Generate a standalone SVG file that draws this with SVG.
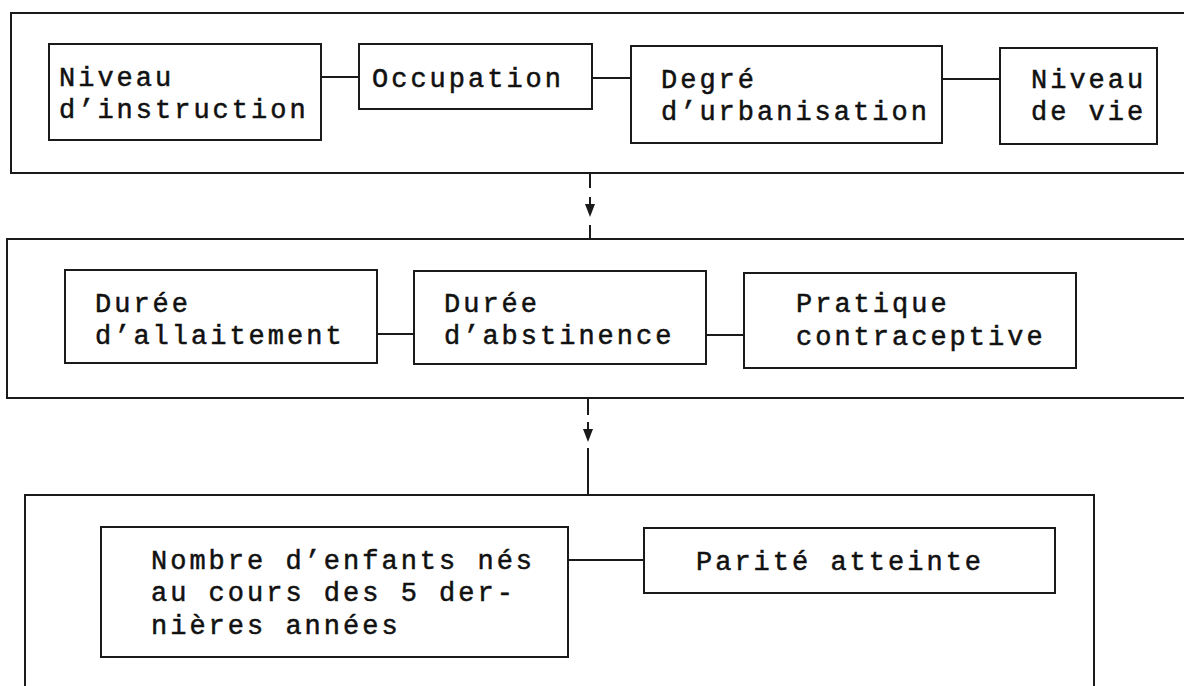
<svg xmlns="http://www.w3.org/2000/svg" width="1184" height="686" viewBox="0 0 1184 686">
<style>
  .panel { fill: none; stroke: #1a1a1a; stroke-width: 2; }
  .box { fill: #fff; stroke: #1a1a1a; stroke-width: 2; }
  .conn { fill: none; stroke: #1a1a1a; stroke-width: 2; }
  .head { fill: #1a1a1a; stroke: none; }
  text { font-family: "Liberation Mono", "Courier New", monospace; font-size: 27px; letter-spacing: 3px; fill: #111; stroke: #111; stroke-width: 0.5; }
</style>
<rect fill="#fff" x="0" y="0" width="1184" height="686"/>

<g id="panel-1"><path class="panel" d="M1200,13 H11 V173 H1200"/></g>
<g id="panel-2"><path class="panel" d="M1200,239 H7 V398 H1200"/></g>
<g id="panel-3"><path class="panel" d="M25,700 V495 H1094 V700"/></g>

<g id="connectors">
  <line class="conn" x1="321" y1="77" x2="359" y2="77"/>
  <line class="conn" x1="592" y1="78" x2="631" y2="78"/>
  <line class="conn" x1="942" y1="79" x2="1000" y2="79"/>
  <line class="conn" x1="377" y1="334" x2="414" y2="334"/>
  <line class="conn" x1="706" y1="335" x2="744" y2="335"/>
  <line class="conn" x1="568" y1="560" x2="644" y2="560"/>
  <line class="conn" x1="590" y1="173" x2="590" y2="188"/>
  <line class="conn" x1="590" y1="197" x2="590" y2="205"/>
  <path class="head" d="M585,204 L595,204 L590,217 Z"/>
  <line class="conn" x1="590" y1="225" x2="590" y2="239"/>
  <line class="conn" x1="588" y1="398" x2="588" y2="415"/>
  <line class="conn" x1="588" y1="422" x2="588" y2="430"/>
  <path class="head" d="M583,429 L593,429 L588,442 Z"/>
  <line class="conn" x1="588" y1="448" x2="588" y2="495"/>
</g>

<g id="niveau-instruction">
  <rect class="box" x="49" y="44" width="272" height="96"/>
  <text x="59" y="86">Niveau</text>
  <text x="59" y="118">d’instruction</text>
</g>
<g id="occupation">
  <rect class="box" x="359" y="44" width="233" height="65"/>
  <text x="372" y="87">Occupation</text>
</g>
<g id="degre-urbanisation">
  <rect class="box" x="631" y="46" width="311" height="97"/>
  <text x="661" y="88">Degré</text>
  <text x="661" y="120">d’urbanisation</text>
</g>
<g id="niveau-vie">
  <rect class="box" x="1000" y="48" width="157" height="96"/>
  <text x="1031" y="88">Niveau</text>
  <text x="1031" y="120">de vie</text>
</g>

<g id="duree-allaitement">
  <rect class="box" x="65" y="270" width="312" height="93"/>
  <text x="95" y="312">Durée</text>
  <text x="95" y="344">d’allaitement</text>
</g>
<g id="duree-abstinence">
  <rect class="box" x="414" y="271" width="292" height="93"/>
  <text x="444" y="312">Durée</text>
  <text x="444" y="344">d’abstinence</text>
</g>
<g id="pratique-contraceptive">
  <rect class="box" x="744" y="273" width="332" height="95"/>
  <text x="796" y="312">Pratique</text>
  <text x="796" y="345">contraceptive</text>
</g>

<g id="nombre-enfants">
  <rect class="box" x="101" y="527" width="467" height="130"/>
  <text x="151" y="569">Nombre d’enfants nés</text>
  <text x="151" y="601">au cours des 5 der-</text>
  <text x="151" y="634">nières années</text>
</g>
<g id="parite-atteinte">
  <rect class="box" x="644" y="528" width="411" height="65"/>
  <text x="696" y="570">Parité atteinte</text>
</g>
</svg>
